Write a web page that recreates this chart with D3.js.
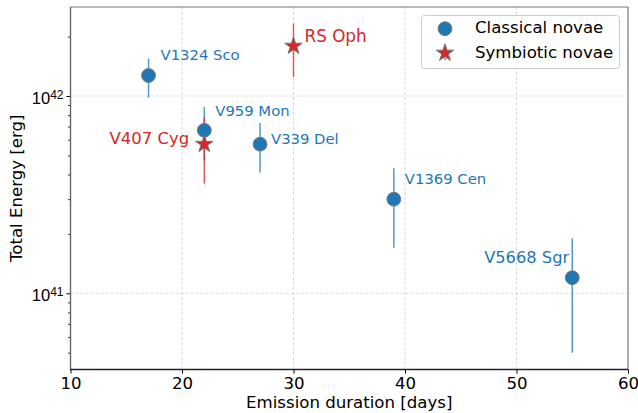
<!DOCTYPE html>
<html><head><meta charset="utf-8">
<script src="https://cdn.jsdelivr.net/npm/d3@7"></script>
<style>body{margin:0;background:#fff}svg{display:block;font-family:"DejaVu Sans",sans-serif}</style>
</head><body><svg id="c" width="638" height="413"></svg>
<script>
// Data
const names = ["V1324 Sco","V959 Mon","V339 Del","V1369 Cen","V5668 Sgr","V407 Cyg","RS Oph"];
const types = ["classical","classical","classical","classical","classical","symbiotic","symbiotic"];
const duration = [17,22,27,39,55,22,30];
const energy = [1.27e42,6.7e41,5.7e41,3.0e41,1.2e41,5.7e41,1.79e42];
const errLow = [0.98e42,4.7e41,4.1e41,1.7e41,5.0e40,3.6e41,1.25e42];
const errHigh = [1.55e42,8.8e41,7.3e41,4.3e41,1.9e41,7.8e41,2.33e42];
const xTicks = [10,20,30,40,50,60];
const yTicks = [1e41,1e42];
const legendLabels = ["Classical novae","Symbiotic novae"];

// Styles / label placement
const labelStyle = {
  "V1324 Sco":{dx:12,dy:-19.5,anchor:"start",size:14.8},
  "V959 Mon":{dx:11,dy:-18,anchor:"start",size:14.8},
  "V339 Del":{dx:11,dy:-4,anchor:"start",size:14.8},
  "V1369 Cen":{dx:11,dy:-19,anchor:"start",size:14.8},
  "V5668 Sgr":{dx:-3,dy:-19.5,anchor:"end",size:16.3},
  "V407 Cyg":{dx:-15,dy:-4.5,anchor:"end",size:16.5},
  "RS Oph":{dx:11,dy:-9.5,anchor:"start",size:16.8}
};
const colors = {classical:"#1f77b4",symbiotic:"#d62728"};
const FS = 16.6;

const svg = d3.select("#c");
const L=70.5,R=628,T=7,B=369.5;
const x = d3.scaleLinear().domain([10,60]).range([L,R]);
const y = d3.scaleLog().domain([4.11e40,2.825e42]).range([B,T]);

// grid
const g = svg.append("g");
g.selectAll(".gx").data(xTicks.slice(1,-1)).join("line")
  .attr("x1",d=>x(d)).attr("x2",d=>x(d)).attr("y1",T).attr("y2",B)
  .attr("stroke","#d0d0d0").attr("stroke-width",0.8).attr("stroke-dasharray","3,2");
g.selectAll(".gy").data(yTicks).join("line")
  .attr("x1",L).attr("x2",R).attr("y1",d=>y(d)).attr("y2",d=>y(d))
  .attr("stroke","#d0d0d0").attr("stroke-width",0.8).attr("stroke-dasharray","3,2");

// axes
const xAxis = d3.axisBottom(x).tickValues(xTicks).tickSize(4).tickPadding(4).tickFormat(d3.format("d"));
const gx = svg.append("g").attr("transform",`translate(0,${B})`).call(xAxis);
gx.select(".domain").remove();
gx.selectAll("text").attr("font-size",FS).attr("fill","#000").attr("font-family","DejaVu Sans");
gx.selectAll("line").attr("stroke","#000");

const minor = [];
for (let e=40;e<=42;e++) for (let m=2;m<=9;m++){const v=m*Math.pow(10,e); if(v>=y.domain()[0]&&v<=y.domain()[1]) minor.push(v);}
const gyMinor = svg.append("g").attr("transform",`translate(${L},0)`)
  .call(d3.axisLeft(y).tickValues(minor).tickSize(2.5).tickFormat(""));
gyMinor.select(".domain").remove();
gyMinor.selectAll("line").attr("stroke","#000").attr("stroke-width",0.8);
const gy = svg.append("g").attr("transform",`translate(${L},0)`)
  .call(d3.axisLeft(y).tickValues(yTicks).tickSize(4).tickPadding(4).tickFormat(()=>""));
gy.select(".domain").remove();
gy.selectAll("line").attr("stroke","#000");
gy.selectAll(".tick").each(function(d){
  const t = d3.select(this).append("text").attr("x",-7).attr("dy","0.45em").attr("text-anchor","end")
    .attr("fill","#000").attr("font-size",FS);
  t.append("tspan").text("10");
  t.append("tspan").attr("dy","-0.45em").attr("font-size",12).text(Math.round(Math.log10(d)));
});

// spines
svg.append("line").attr("x1",L).attr("x2",R).attr("y1",T).attr("y2",T).attr("stroke","#777").attr("stroke-width",1.2);
svg.append("line").attr("x1",R).attr("x2",R).attr("y1",T).attr("y2",B).attr("stroke","#777").attr("stroke-width",1.2);
svg.append("line").attr("x1",L).attr("x2",L).attr("y1",T).attr("y2",B).attr("stroke","#666").attr("stroke-width",1.4);
svg.append("line").attr("x1",L-0.5).attr("x2",R).attr("y1",B).attr("y2",B).attr("stroke","#222").attr("stroke-width",1.4);

// axis titles
svg.append("text").attr("x",(L+R)/2).attr("y",408).attr("text-anchor","middle").attr("font-size",FS).text("Emission duration [days]");
svg.append("text").attr("transform",`translate(22,${(T+B)/2}) rotate(-90)`).attr("text-anchor","middle").attr("font-size",FS).text("Total Energy [erg]");

const idx = d3.range(names.length);
const circleSym = d3.symbol().type(d3.symbolCircle).size(150);
const starSym = d3.symbol().type(d3.symbolStar).size(95);

// error bars (classical first, then symbiotic)
const order = idx.filter(i=>types[i]==="classical").concat(idx.filter(i=>types[i]==="symbiotic"));
svg.append("g").selectAll("line").data(order).join("line")
  .attr("x1",i=>x(duration[i])).attr("x2",i=>x(duration[i]))
  .attr("y1",i=>y(errLow[i])).attr("y2",i=>y(errHigh[i]))
  .attr("stroke",i=>colors[types[i]]).attr("stroke-width",1.5).attr("stroke-opacity",0.75);

// markers
svg.append("g").selectAll("path").data(order).join("path")
  .attr("transform",i=>`translate(${x(duration[i])},${y(energy[i])})`)
  .attr("d",i=>types[i]==="classical"?circleSym():starSym())
  .attr("fill",i=>colors[types[i]]).attr("stroke","#777").attr("stroke-width",1);

// labels
svg.append("g").selectAll("text").data(idx).join("text")
  .attr("x",i=>x(duration[i])+labelStyle[names[i]].dx)
  .attr("y",i=>y(energy[i])+labelStyle[names[i]].dy)
  .attr("text-anchor",i=>labelStyle[names[i]].anchor)
  .attr("font-size",i=>labelStyle[names[i]].size)
  .attr("fill",i=>colors[types[i]])
  .attr("dominant-baseline","middle")
  .text(i=>names[i]);

// legend
const lg = svg.append("g");
lg.append("rect").attr("x",421.5).attr("y",15.5).attr("width",198).attr("height",53).attr("rx",3)
  .attr("fill","#fff").attr("fill-opacity",0.85).attr("stroke","#ccc");
const legTypes = ["classical","symbiotic"];
legTypes.forEach((t,k)=>{
  const cy = 28.7 + k*24.3;
  lg.append("line").attr("x1",445).attr("x2",445).attr("y1",cy-7).attr("y2",cy+7)
    .attr("stroke",colors[t]).attr("stroke-width",1.5).attr("stroke-opacity",0.75);
  lg.append("path").attr("transform",`translate(445,${cy})`).attr("d",t==="classical"?circleSym():starSym())
    .attr("fill",colors[t]).attr("stroke","#777");
  lg.append("text").attr("x",475).attr("y",cy).attr("dominant-baseline","middle").attr("font-size",FS).text(legendLabels[k]);
});
</script></body></html>
